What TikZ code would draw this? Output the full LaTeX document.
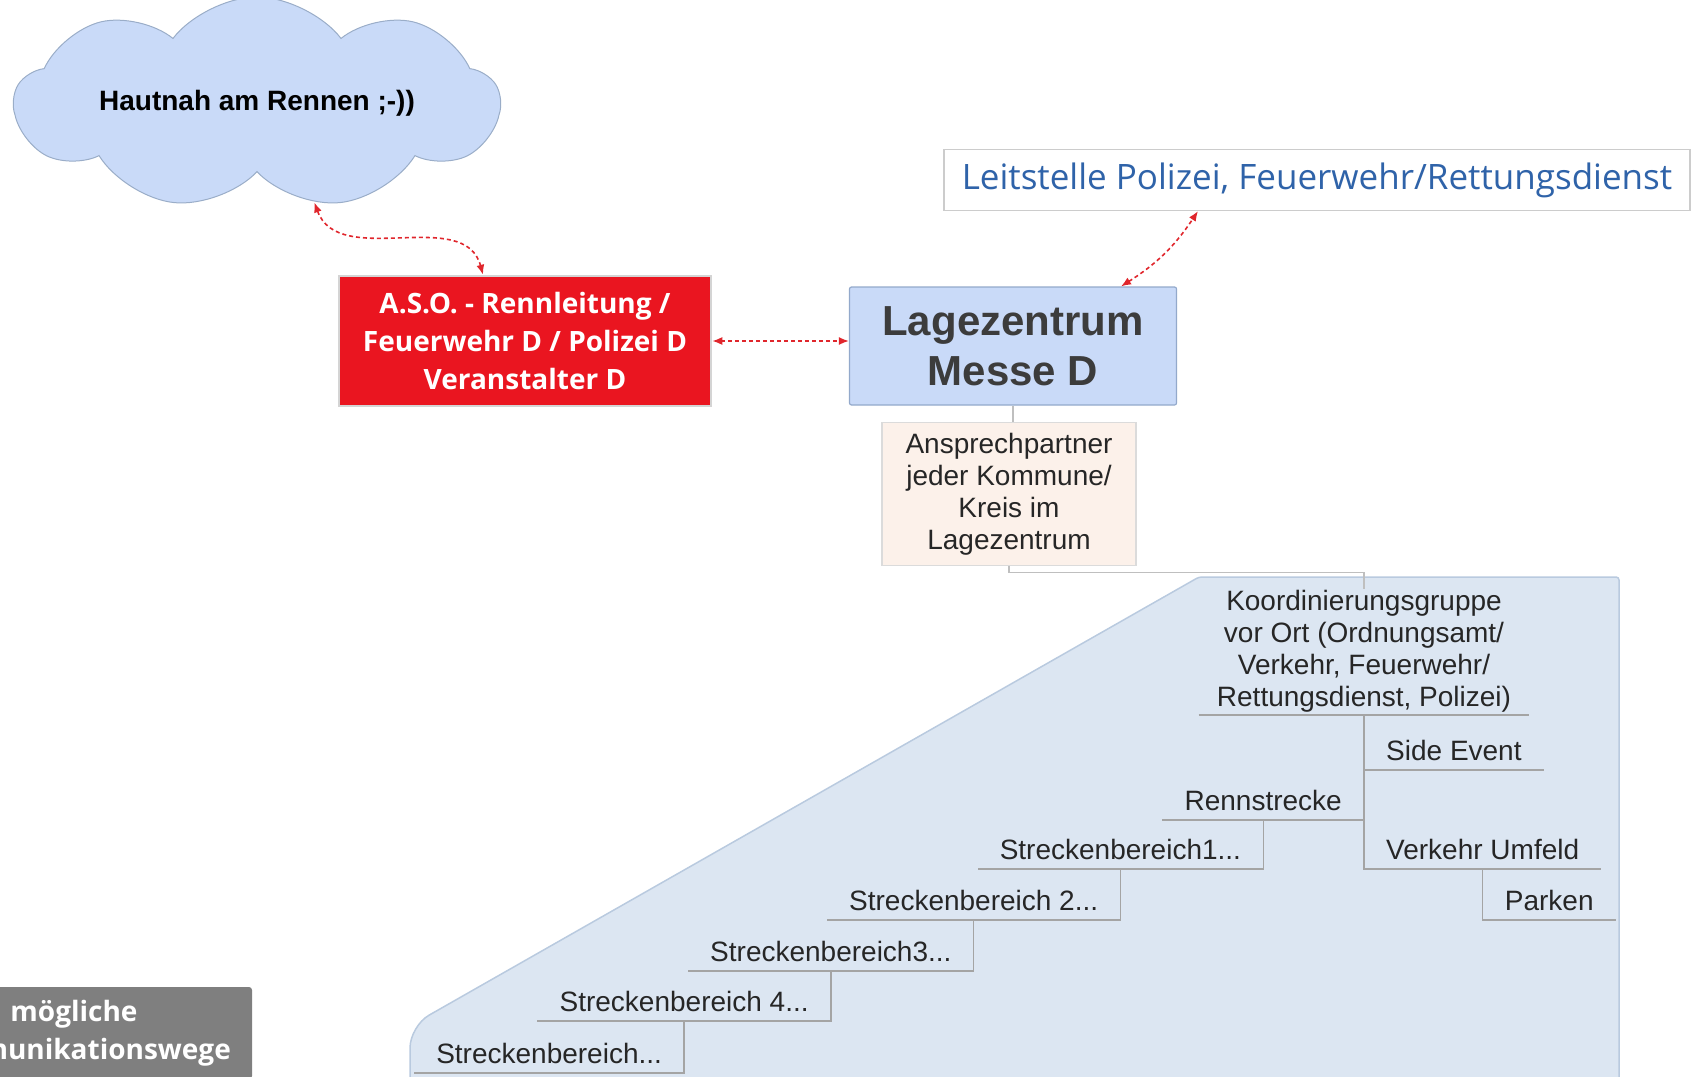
\documentclass[tikz,border=0pt]{standalone}
\usepackage{fontspec}
\setmainfont{Liberation Sans}
\newfontfamily\osans{Open Sans}
\usetikzlibrary{shapes.symbols,arrows.meta}

\definecolor{cloudblue}{HTML}{C9DAF8}
\definecolor{cloudedge}{HTML}{9AADC8}
\definecolor{areablue}{HTML}{DCE6F2}
\definecolor{areaedge}{HTML}{B9CADF}
\definecolor{asored}{HTML}{EA1520}
\definecolor{lagetext}{HTML}{3C3C3C}
\definecolor{lageedge}{HTML}{93A9CB}
\definecolor{leitblue}{HTML}{2F63A9}
\definecolor{anspfill}{HTML}{FCF1EA}
\definecolor{linegray}{HTML}{A4A4A4}
\definecolor{textgray}{HTML}{262626}
\definecolor{dashred}{HTML}{E0262C}
\definecolor{boxgray}{HTML}{7F7F7F}

\newcommand\fsz[2]{\fontsize{#1}{#2}\selectfont}
\newcommand\TY{869} % level of Verkehr Umfeld / Streckenbereich1

\tikzset{
  comm/.style={dashred, line width=1.6pt, dash pattern=on 4pt off 3pt,
    {Latex[length=10pt,width=8pt]}-{Latex[length=10pt,width=8pt]}},
  branch/.style={font=\fsz{28}{32}, text=textgray, inner xsep=22pt,
    inner ysep=3pt, text height=20pt, text depth=6pt},
  treeline/.style={linegray, line width=1.4pt},
}

\begin{document}
\begin{tikzpicture}[x=1pt, y=-1pt]
  \useasboundingbox (0,0) rectangle (1691,1076);

  %% area of the local groups
  \draw[fill=areablue, draw=areaedge, line width=1.5pt]
    (410,1095) [rounded corners=22pt]-- (410,1026) [rounded corners=3pt]-- (1199,577)
    -- (1619,577) -- (1619,1095) -- cycle;

  \node[cloud, cloud puffs=9, cloud puff arc=105, cloud ignores aspect,
    fill=cloudblue, draw=cloudedge, line width=1pt, minimum width=485pt,
    minimum height=212pt, font=\bfseries\fsz{28}{34}, text=black] (cloud)
    at (257,103) {Hautnah am Rennen ;-))};

  \node[fill=asored, draw=black!17, line width=2.5pt, minimum width=372pt,
    minimum height=130pt, align=center, text=white,
    font=\osans\bfseries\fsz{28}{38}] (aso) at (525,341)
    {A.S.O. - Rennleitung /\\Feuerwehr D / Polizei D\\Veranstalter D};

  \node[fill=cloudblue, draw=lageedge, line width=1.2pt, rounded corners=2pt,
    minimum width=327pt, minimum height=118pt, align=center, text=lagetext,
    font=\bfseries\fsz{42}{50}] (lage) at (1013,346) {Lagezentrum\\Messe D};

  \node[fill=white, draw=black!20, line width=1.2pt, minimum width=746pt,
    minimum height=61pt, text=leitblue, font=\osans\fsz{35}{40}] (leit) at (1317,180)
    {Leitstelle Polizei, Feuerwehr/Rettungsdienst};

  \node[fill=anspfill, draw=black!14, line width=1.5pt, minimum width=254pt,
    minimum height=143pt, align=center, text=textgray, font=\fsz{28}{32}] (ansp)
    at (1009,494) {Ansprechpartner\\jeder Kommune/\\Kreis im\\Lagezentrum};

  \node[fill=boxgray, rounded corners=3pt, minimum width=356pt, minimum height=92pt,
    align=center, text=white, font=\osans\bfseries\fsz{28}{38}] (wege) at (74,1033)
    {mögliche\\Kommunikationswege};

  %% local tree
  \node[align=center, font=\fsz{28}{32}, text=textgray, inner xsep=18pt,
    inner ysep=2pt, anchor=south] (koord) at (1364,715)
    {Koordinierungsgruppe\\vor Ort (Ordnungsamt/\\Verkehr, Feuerwehr/\\Rettungsdienst, Polizei)};
  \node[branch, anchor=south west] (side) at (koord.south |- 0,770) {Side Event};
  \node[branch, anchor=south east] (renn) at (koord.south |- 0,820) {Rennstrecke};
  \node[branch, anchor=south west] (verk) at (koord.south |- 0,\TY) {Verkehr Umfeld};
  \node[branch, anchor=south west] (park) at (verk.south |- 0,920) {Parken};
  \node[branch, anchor=south east] (sb1) at (renn.south |- 0,\TY) {Streckenbereich1...};
  \node[branch, anchor=south east] (sb2) at (sb1.south |- 0,920) {Streckenbereich 2...};
  \node[branch, anchor=south east] (sb3) at (sb2.south |- 0,971) {Streckenbereich3...};
  \node[branch, anchor=south east] (sb4) at (sb3.south |- 0,1021) {Streckenbereich 4...};
  \node[branch, anchor=south east] (sb5) at (sb4.south |- 0,1073) {Streckenbereich...};

  \draw[treeline] (koord.south west) -- (koord.south east);
  \draw[treeline] (koord.south) |- (side.south east); %% koord side
  \draw[treeline] (koord.south) |- (renn.south west); %% koord renn
  \draw[treeline] (koord.south) |- (verk.south east); %% koord verk
  \draw[treeline] (verk.south) |- (park.south east); %% verk park
  \draw[treeline] (renn.south) |- (sb1.south west); %% renn sb1
  \draw[treeline] (sb1.south) |- (sb2.south west); %% sb1 sb2
  \draw[treeline] (sb2.south) |- (sb3.south west); %% sb2 sb3
  \draw[treeline] (sb3.south) |- (sb4.south west); %% sb3 sb4
  \draw[treeline] (sb4.south) |- (sb5.south west); %% sb4 sb5

  \draw[treeline, black!25] (lage.south) -- (lage.south |- ansp.north); %% lage ansp
  \draw[treeline, black!25] (ansp.south) -- ++(0,6) -| (koord.north); %% ansp koord

  %% communication paths
  \draw[comm] (cloud.-60) to[out=-70, in=105] ([xshift=-42pt]aso.north); %% cloud aso
  \draw[comm] (aso.east) -- (aso.east -| lage.west); %% aso lage
  \draw[comm] ([xshift=108pt]lage.north) to[bend right=12] ([xshift=-119pt]leit.south); %% lage leit

\end{tikzpicture}
\end{document}
